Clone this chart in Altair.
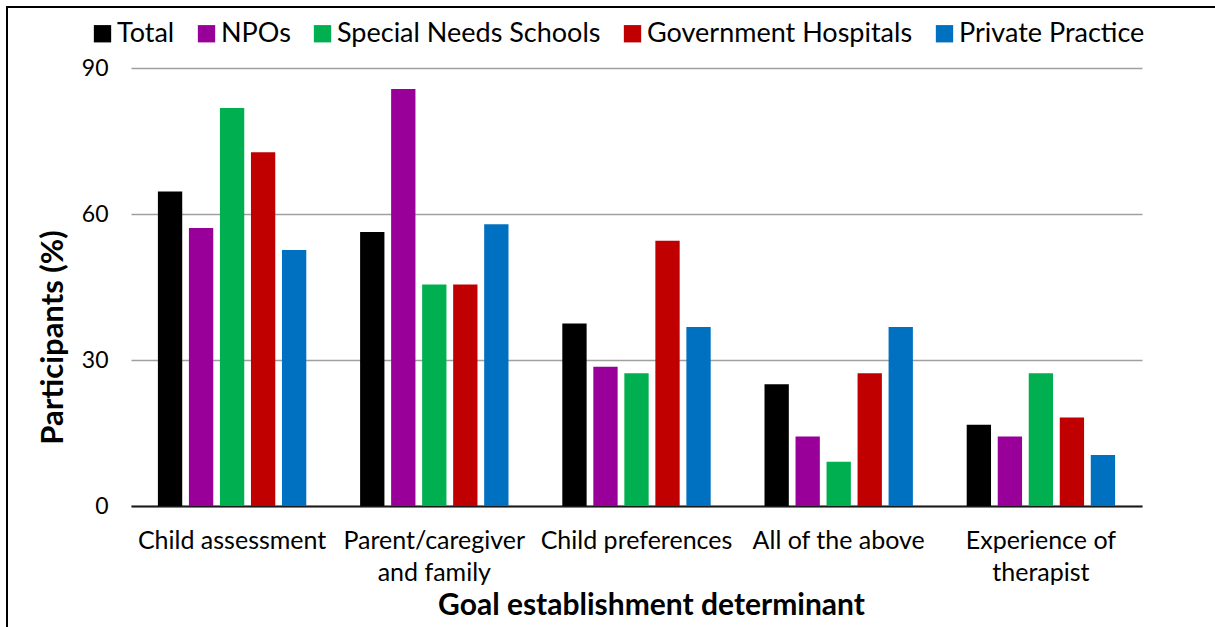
import altair as alt
import pandas as pd

# Goal establishment determinants (x categories) and practice settings (series)
determinants = [
    "Child assessment",
    "Parent/caregiver and family",
    "Child preferences",
    "All of the above",
    "Experience of therapist",
]
groups = ["Total", "NPOs", "Special Needs Schools", "Government Hospitals", "Private Practice"]
colors = ["#000000", "#990099", "#00B050", "#C00000", "#0070C0"]

# Percentage of participants per determinant, one list per setting
total = [64.6, 56.3, 37.5, 25.0, 16.7]
npos = [57.1, 85.7, 28.6, 14.3, 14.3]
special_schools = [81.8, 45.5, 27.3, 9.1, 27.3]
gov_hospitals = [72.7, 45.5, 54.5, 27.3, 18.2]
private_practice = [52.6, 57.9, 36.8, 36.8, 10.5]

y_ticks = [0, 30, 60, 90]

series = [total, npos, special_schools, gov_hospitals, private_practice]
rows = []
for g, vals in zip(groups, series):
    for d, v in zip(determinants, vals):
        rows.append({"determinant": d, "group": g, "pct": v})
df = pd.DataFrame(rows)

FONT = "Lato"
TOTAL_W, TOTAL_H = 1215, 627
W, H = 1011, 438
PAD_L, PAD_T = 131, 68

label_expr = (
    "datum.label == 'Parent/caregiver and family' ? ['Parent/caregiver', 'and family'] : "
    "datum.label == 'Experience of therapist' ? ['Experience of', 'therapist'] : datum.label"
)

bars = alt.Chart(df).mark_bar().encode(
    x=alt.X(
        "determinant:N",
        sort=determinants,
        scale=alt.Scale(paddingInner=0.233, paddingOuter=0.1165),
        axis=alt.Axis(
            title="Goal establishment determinant",
            labelAngle=0,
            labelExpr=label_expr,
            labelFontSize=25,
            labelColor="#000000",
            labelPadding=22,
            labelLineHeight=32,
            labelLimit=0,
            ticks=False,
            grid=False,
            domain=True,
            domainColor="#1a1a1a",
            domainWidth=2,
            titleFontSize=30,
            titleFontWeight="bold",
            titleColor="#000000",
            titleX=520,
            titleY=108,
            titleBaseline="alphabetic",
            titleLimit=0,
        ),
    ),
    xOffset=alt.XOffset(
        "group:N",
        sort=groups,
        scale=alt.Scale(paddingInner=0.216, paddingOuter=0.108),
    ),
    y=alt.Y(
        "pct:Q",
        scale=alt.Scale(domain=[0, 90]),
        axis=alt.Axis(
            title="Participants (%)",
            values=y_ticks,
            labelFontSize=23,
            labelColor="#000000",
            labelPadding=23,
            ticks=False,
            domain=False,
            grid=True,
            gridColor="#a0a0a0",
            gridWidth=1.5,
            titleFontSize=31,
            titleFontWeight="bold",
            titleColor="#000000",
            titleAngle=-90,
            titleX=-69,
            titleY=269,
            titleBaseline="alphabetic",
            titleLimit=0,
        ),
    ),
    color=alt.Color(
        "group:N",
        scale=alt.Scale(domain=groups, range=colors),
        legend=alt.Legend(
            title=None,
            orient="none",
            direction="horizontal",
            legendX=-42,
            legendY=-48,
            symbolType="square",
            symbolSize=300,
            symbolStrokeWidth=0,
            symbolOpacity=1,
            labelFontSize=27,
            labelColor="#000000",
            labelOffset=1,
            labelLimit=0,
            columnPadding=18,
            padding=0,
        ),
    ),
)

# Black frame round the figure; its right and bottom edges run past the canvas
frame = alt.Chart(alt.Data(values=[{}])).mark_rect(
    fill=None, stroke="#000000", strokeWidth=2
).encode(
    x=alt.value(7 - PAD_L),
    x2=alt.value(TOTAL_W - PAD_L + 20),
    y=alt.value(7 - PAD_T),
    y2=alt.value(TOTAL_H - PAD_T + 20),
)

chart = (
    alt.layer(bars, frame)
    .properties(
        width=W,
        height=H,
        autosize=alt.AutoSizeParams(type="none"),
        padding={
            "left": PAD_L,
            "top": PAD_T,
            "right": TOTAL_W - PAD_L - W,
            "bottom": TOTAL_H - PAD_T - H,
        },
        background="#ffffff",
    )
    .configure(font=FONT)
    .configure_view(stroke=None)
)

chart.save("out.html", embed_options={"renderer": "svg", "actions": False})
